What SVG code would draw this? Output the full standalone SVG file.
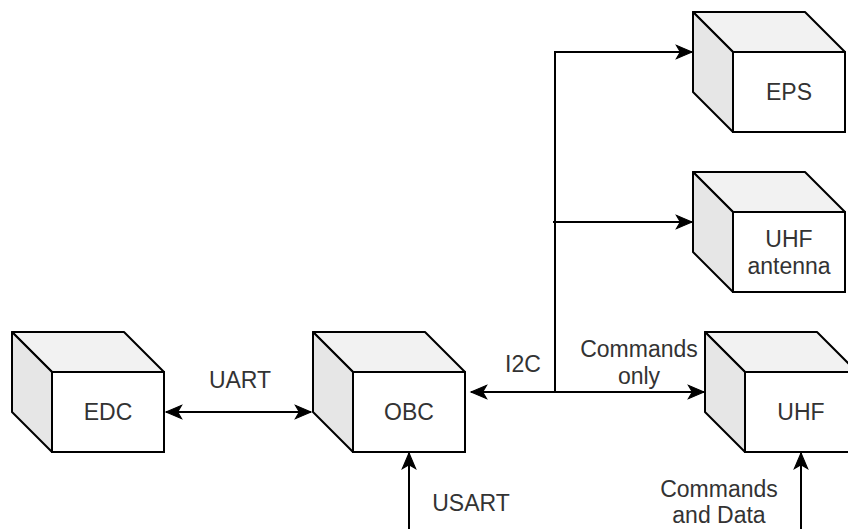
<svg xmlns="http://www.w3.org/2000/svg" width="848" height="529" viewBox="0 0 848 529">
<style>
.outline{fill:none;stroke:#000;stroke-width:2;stroke-linejoin:round}
.top{fill:#f2f2f2;stroke:#000;stroke-width:2;stroke-linejoin:round}
.left{fill:#e6e6e6;stroke:#000;stroke-width:2;stroke-linejoin:round}
.front{fill:#fff;stroke:#000;stroke-width:2}
text{font-family:"Liberation Sans",Arial,sans-serif;font-size:23px;fill:#333;text-anchor:middle}
.conn{fill:none;stroke:#000;stroke-width:2}
</style>
<defs>
<marker id="arr" markerUnits="userSpaceOnUse" markerWidth="20" markerHeight="20" refX="0" refY="0" viewBox="-16 -8 18 16" orient="auto-start-reverse" overflow="visible">
<path d="M0,0 L-14,-6 L-10.5,0 L-14,6 Z" fill="#000" stroke="#000" stroke-width="1" stroke-linejoin="miter"/>
</marker>
<g id="cube">
<path class="top" d="M0,0 L112,0 L152,40 L40,40 Z"/>
<path class="left" d="M0,0 L40,40 L40,120 L0,80 Z"/>
<rect class="front" x="40" y="40" width="112" height="80"/>
</g>
</defs>
<g id="connectors">
<path class="conn" d="M166,412 L311,412" marker-start="url(#arr)" marker-end="url(#arr)"/>
<path class="conn" d="M471,392 L704,392" marker-start="url(#arr)" marker-end="url(#arr)"/>
<path class="conn" d="M555,392 L555,52 L692,52" marker-end="url(#arr)"/>
<path class="conn" d="M553,222 L692,222" marker-end="url(#arr)"/>
<path class="conn" d="M409,530 L409,453" marker-end="url(#arr)"/>
<path class="conn" d="M801,530 L801,453" marker-end="url(#arr)"/>
<text x="240" y="388">UART</text>
<text x="523" y="372">I2C</text>
<text x="639" y="357">Commands</text>
<text x="639" y="384">only</text>
<text x="471" y="511">USART</text>
<text x="719" y="497">Commands</text>
<text x="719" y="523">and Data</text>
</g>
<g id="EDC">
<use href="#cube" x="12" y="332"/>
<text x="108" y="420">EDC</text>
</g>
<g id="OBC">
<use href="#cube" x="313" y="332"/>
<text x="409" y="420">OBC</text>
</g>
<g id="UHF">
<use href="#cube" x="705" y="332"/>
<text x="801" y="420">UHF</text>
</g>
<g id="EPS">
<use href="#cube" x="693" y="12"/>
<text x="789" y="100">EPS</text>
</g>
<g id="UHF_antenna">
<use href="#cube" x="693" y="172"/>
<text x="789" y="247">UHF</text>
<text x="789" y="274">antenna</text>
</g>
</svg>
